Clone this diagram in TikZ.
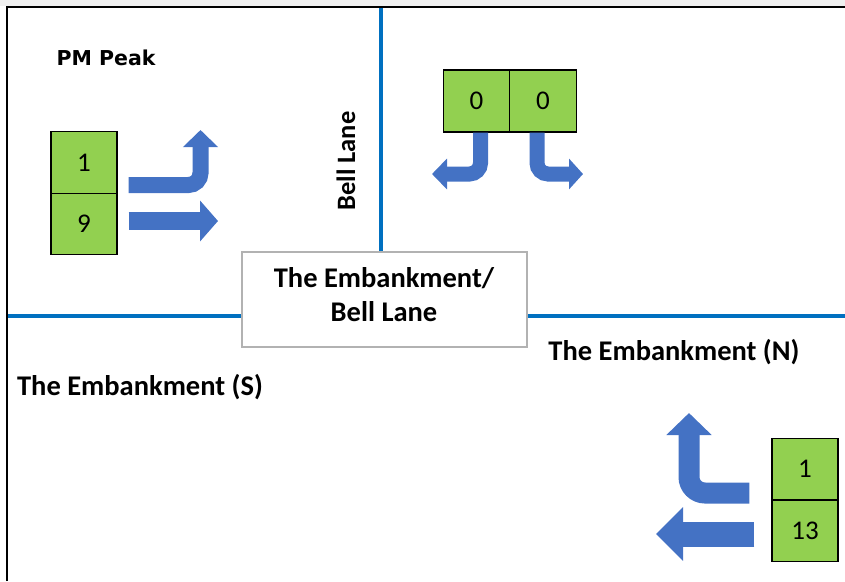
\documentclass[tikz,border=0pt]{standalone}
\usepackage{fontspec}
\setmainfont{Carlito}
\newfontfamily\titlefont{DejaVu Sans}
\usetikzlibrary{arrows.meta,calc}
\definecolor{roadblue}{HTML}{0070C0}
\definecolor{flowblue}{HTML}{4472C4}
\definecolor{cellgreen}{HTML}{92D050}
\tikzset{
  road/.style={roadblue,line width=4pt},
  frameline/.style={black,line width=2.5pt},
  cell/.style={draw=black,line width=1.3pt,fill=cellgreen,inner sep=0pt,
    minimum width=66pt,minimum height=61.5pt,
    font=\fontsize{27}{30}\selectfont},
  hcell/.style={cell,minimum width=66.5pt,minimum height=62pt},
  label/.style={font=\bfseries\fontsize{28.5}{33}\selectfont,inner sep=0pt},
  flow/.style={draw=flowblue,line cap=butt,rounded corners=#1},
  flow/.default=12pt,
}
\begin{document}
\begin{tikzpicture}[x=1pt,y=-1pt]
  \useasboundingbox (0,0) rectangle (845,581);
  \fill[black!6] (0,0) rectangle (845,6);

  % outer frame (left and top edges)
  \coordinate (fTL) at (7,7);
  \coordinate (fBL) at (7,581);
  \coordinate (fTR) at (845,7);
  \draw[frameline] (fBL) -- (fTL) -- (fTR);

  % junction box
  \node[draw=black!30,line width=1.2pt,fill=white,minimum width=285pt,
        minimum height=95pt,inner sep=0pt] (junction) at (384.5,299.5) {};
  \node[label,align=center] (jtext) at (384,295)
    {The Embankment/\\[1pt]Bell Lane};

  % roads
  \coordinate (roadN) at (381,8);
  \coordinate (roadW) at (8,316);
  \coordinate (roadE) at (845,316);
  \draw[road] (roadN) -- (roadN |- junction.north);
  \draw[road] (roadW) -- (roadW -| junction.west);
  \draw[road] (roadE) -- (roadE -| junction.east);

  % street names
  \node[label,font=\bfseries\fontsize{26.5}{30}\selectfont,rotate=90]
    (bell) at (346,161) {Bell Lane};
  \node[label] (embN) at (674,352) {The Embankment (N)};
  \node[label] (embS) at (140,387) {The Embankment (S)};
  \node[font=\titlefont\bfseries\fontsize{20.5}{23}\selectfont,inner sep=0pt]
    (title) at (106,58) {PM Peak};

  % flow counts, western approach
  \node[cell] (w1) at (84,162.5) {1};
  \node[cell] (w2) at (84,224) {9};
  % flow counts, northern approach
  \node[hcell] (n1) at (476.5,101) {0};
  \node[hcell] (n2) at (543,101) {0};
  % flow counts, eastern approach
  \node[cell] (e1) at (805,469) {1};
  \node[cell] (e2) at (805,531) {13};

  % movement arrows, western approach
  \coordinate (w1s) at ($(w1.east)+(11,22.5)$);
  \coordinate (w1t) at (200.5,130);
  \coordinate (w2s) at ($(w2.east)+(11,-3)$);
  \coordinate (w2t) at (218,221);
  \draw[flow,line width=16pt,-{Triangle[width=34pt,length=17pt]}]
    (w1s) -| (w1t);
  \draw[flow,line width=18pt,-{Triangle[width=40pt,length=18pt]}]
    (w2s) -- (w2t);

  % movement arrows, northern approach
  \coordinate (n1s) at (480.5,132.5);
  \coordinate (n1t) at (432,174);
  \coordinate (n2s) at (537,132.5);
  \coordinate (n2t) at (583,174);
  \draw[flow=11pt,line width=15pt,-{Triangle[width=30pt,length=15pt]}]
    (n1s) |- (n1t);
  \draw[flow=11pt,line width=15pt,-{Triangle[width=30pt,length=14pt]}]
    (n2s) |- (n2t);

  % movement arrows, eastern approach
  \coordinate (e1s) at ($(e1.west)+(-22,24)$);
  \coordinate (e1t) at (689,413);
  \coordinate (e2s) at ($(e2.west)+(-17,3)$);
  \coordinate (e2t) at (656,534);
  \draw[flow=16pt,line width=21pt,-{Triangle[width=44pt,length=22pt]}]
    (e1s) -| (e1t);
  \draw[flow,line width=25pt,-{Triangle[width=52pt,length=27pt]}]
    (e2s) -- (e2t);
\end{tikzpicture}
\end{document}
